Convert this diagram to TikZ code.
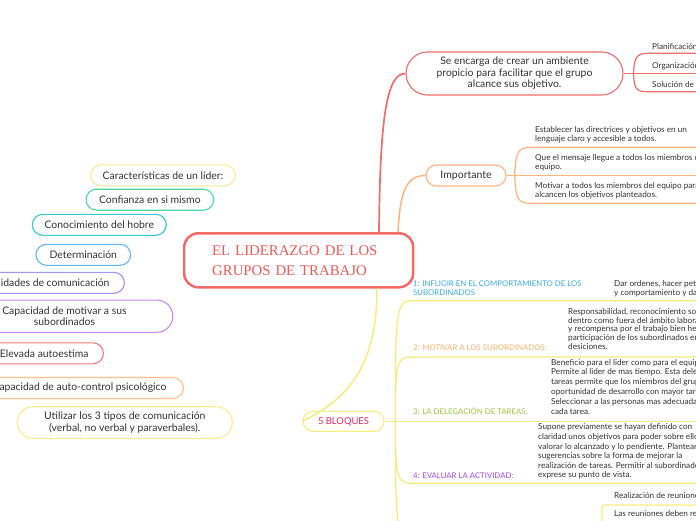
\documentclass[tikz,border=0pt]{standalone}
\usepackage{fontspec}
\setmainfont{Lato}
\newfontfamily\titlefont{Liberation Serif}
\definecolor{txt}{HTML}{333333}
\definecolor{cRed}{HTML}{F26D6D}
\definecolor{cCtr}{HTML}{F46A6A}
\definecolor{cCtrT}{HTML}{EE5B57}
\definecolor{cOra}{HTML}{FFB47E}
\definecolor{cYl}{HTML}{F7EC7E}
\definecolor{pYel}{HTML}{F5EC94}
\definecolor{pGrn}{HTML}{4CD9A4}
\definecolor{pCyn}{HTML}{33C9D6}
\definecolor{pBlu}{HTML}{66B5F5}
\definecolor{pLav}{HTML}{9E96F5}
\definecolor{pPur}{HTML}{C98AF0}
\definecolor{pSal}{HTML}{F27B78}
\definecolor{pOra}{HTML}{FFBF8F}
\definecolor{lBlu}{HTML}{3AACEB}
\definecolor{lOra}{HTML}{F7B469}
\definecolor{lGrn}{HTML}{A5C33C}
\definecolor{lPur}{HTML}{A147EE}
\definecolor{lCrm}{HTML}{E2275F}
\tikzset{
  pill/.style={draw, line width=1.1pt, rounded corners=10.5pt, inner sep=0pt, minimum height=21pt,
    font=\fontsize{10.4}{11.5}\selectfont, text=txt, align=center},
  subt/.style={inner sep=0pt, text=txt, align=left, anchor=south west},
  subone/.style={inner sep=0pt, text=txt, anchor=base west, font=\fontsize{8.2}{9.5}\selectfont},
  lab/.style={inner sep=0pt, align=left, font=\fontsize{7.8}{8.8}\selectfont},
  redl/.style={draw=cRed, line width=1.2pt},
  oral/.style={draw=cOra, line width=1.2pt},
  yell/.style={draw=cYl, line width=1.3pt},
}
\begin{document}
\begin{tikzpicture}[x=1pt,y=-1pt]
\useasboundingbox (0,0) rectangle (696,520);
\clip (0,0) rectangle (696,520);
\fill[white] (0,0) rectangle (696,520);

% left floating nodes
\node[pill, draw=pYel, minimum width=144.6pt] (p1) at (163,175.3) {Características de un líder:};
\node[pill, draw=pGrn, minimum width=127.7pt] (p2) at (149.9,199.7) {Confianza en si mismo};
\node[pill, draw=pCyn, minimum width=134pt] (p3) at (99.3,224.8) {Conocimiento del hobre};
\node[pill, draw=pBlu, minimum width=94.7pt] (p4) at (83.3,254.8) {Determinación};
\node[pill, draw=pLav, anchor=east, inner xsep=15pt] (p5) at (125,282.8) {Habilidades de comunicación};
\node[pill, draw=pPur, anchor=east, rounded corners=16pt, minimum width=216.6pt, minimum height=32.3pt] (p6) at (173.3,316.2) {Capacidad de motivar a sus\\subordinados};
\node[pill, draw=pSal, anchor=east, inner xsep=15pt] (p7) at (104,353.3) {Elevada autoestima};
\node[pill, draw=pOra, anchor=east, inner xsep=17pt] (p8) at (184,388) {Capacidad de auto-control psicológico};
\node[pill, draw=pYel, rounded corners=15.8pt, minimum width=215pt, minimum height=31.6pt] (p9) at (124.8,422.5) {Utilizar los 3 tipos de comunicación\\(verbal, no verbal y paraverbales).};

% central node
\node[draw=cCtr, line width=2.5pt, rounded corners=14pt, minimum width=229pt, minimum height=54pt,
  text width=173pt, inner xsep=28pt, inner ysep=0pt, align=left,
  font=\titlefont\fontsize{14.8}{20}\selectfont, text=cCtrT] (center) at (298.7,260.3) {EL LIDERAZGO DE LOS\\GRUPOS DE TRABAJO};

% first-level nodes
\node[pill, draw=cRed, rounded corners=21.5pt, minimum width=217pt, minimum height=43pt] (se) at (514.5,73.5)
  {Se encarga de crear un ambiente\\propicio para facilitar que el grupo\\alcance sus objetivo.};
\node[pill, draw=cOra, minimum width=80pt, font=\fontsize{10.5}{12}\selectfont] (imp) at (466,175.5) {Importante};
\node[pill, draw=cYl, rounded corners=10pt, minimum width=81pt, minimum height=20pt, text=lCrm, font=\fontsize{9.4}{11}\selectfont] (blq) at (343.5,421.3) {5 BLOQUES};

% connectors from the centre
\draw[redl, line width=1.7pt] ([xshift=80.3pt]center.north) .. controls (380,115) and (387,73.5) .. (se.west);
\draw[oral, line width=1.5pt] ([xshift=99.3pt]center.north) .. controls (400,192) and (406,175.5) .. (imp.west);
\draw[yell, line width=1.5pt] ([xshift=78.3pt]center.south) .. controls (377,370) and (345,400) .. (blq.west);

% red sub-branches
\coordinate (rj) at ([xshift=10pt]se.east);
\coordinate (R1) at (700,53.3);
\coordinate (R2) at (700,73.5);
\coordinate (R3) at (700,91.7);
\draw[redl] (se.east) -- (R2);
\draw[redl] (rj) .. controls (634,57) and (637,53.3) .. (648,53.3) -- (R1);
\draw[redl] (rj) .. controls (634,90) and (637,91.7) .. (648,91.7) -- (R3);
\node[subone] (r1) at (652,49.2) {Planificación};
\node[subone] (r2) at (652,68.5) {Organización};
\node[subone] (r3) at (652,87.5) {Solución de problemas};

% orange sub-branches
\coordinate (oj) at ([xshift=8pt]imp.east);
\coordinate (O1) at (700,147.3);
\coordinate (O2) at (700,175.5);
\coordinate (O3) at (700,203.3);
\draw[oral] (imp.east) -- (O2);
\draw[oral] (oj) .. controls (516,152) and (518,147.3) .. (530,147.3) -- (O1);
\draw[oral] (oj) .. controls (516,199) and (518,203.3) .. (530,203.3) -- (O3);
\node[subt, font=\fontsize{8.2}{9.3}\selectfont] (i1) at (535,144.4) {Establecer las directrices y objetivos en un\\lenguaje claro y accesible a todos.\strut};
\node[subt, font=\fontsize{8.2}{9.3}\selectfont] (i2) at (535,172.8) {Que el mensaje llegue a todos los miembros del\\equipo.\strut};
\node[subt, font=\fontsize{8.2}{9.3}\selectfont] (i3) at (535,200.4) {Motivar a todos los miembros del equipo para\\alcancen los objetivos planteados.\strut};

% yellow sub-branches (5 bloques)
\coordinate (bj) at ([xshift=11pt]blq.east);
\coordinate (Y1) at (700,300.7);
\coordinate (Y2) at (700,357);
\coordinate (Y3) at (700,421.3);
\coordinate (Y4) at (700,483.3);
\coordinate (Y5) at (602,540);
\coordinate (Y6) at (700,505);
\draw[yell] (blq.east) -- (Y3);
\draw[yell] (bj) .. controls (395,320) and (396,300.7) .. (410,300.7) -- (Y1);
\draw[yell] (bj) .. controls (395,368) and (396,357) .. (410,357) -- (Y2);
\draw[yell] (bj) .. controls (395,470) and (396,483.3) .. (410,483.3) -- (Y4);
\draw[yell] (bj) .. controls (395,525) and (397,540) .. (410,540) -- (Y5);
\draw[yell] (Y5) -- (602,510) .. controls (602,506) and (603,505) .. (607,505) -- (Y6);

\node[lab, text=lBlu, anchor=south west] (b1) at (413,298.1) {1: INFLIGIR EN EL COMPORTAMIENTO DE LOS\\SUBORDINADOS\strut};
\node[lab, text=lOra, anchor=base west] (b2) at (413,350.1) {2: MOTIVAR A LOS SUBORDINADOS:};
\node[lab, text=lGrn, anchor=base west] (b3) at (413,414.5) {3: LA DELEGACIÓN DE TAREAS:};
\node[lab, text=lPur, anchor=base west] (b4) at (413,478.5) {4: EVALUAR LA ACTIVIDAD:};

\node[subt, font=\fontsize{8.2}{9}\selectfont] (s1) at (614,298) {Dar ordenes, hacer peticiones\\y comportamiento y dar\strut};
\node[subt, font=\fontsize{8.2}{8.7}\selectfont] (s2) at (568,352.2) {Responsabilidad, reconocimiento social\\dentro como fuera del ámbito laboral\\y recompensa por el trabajo bien hecho\\participación de los subordinados en\\desiciones.\strut};
\node[subt, font=\fontsize{8.2}{9.8}\selectfont] (s3) at (551,417.3) {Beneficio para el lider como para el equipo.\\Permite al lider de mas tiempo. Esta delegación\\tareas permite que los miembros del grupo\\oportunidad de desarrollo con mayor tarea\\Seleccionar a las personas mas adecuadas\\cada tarea.\strut};
\node[subt, font=\fontsize{8.2}{9.6}\selectfont] (s4) at (538,480.9) {Supone previamente se hayan definido con\\claridad unos objetivos para poder sobre ellos\\valorar lo alcanzado y lo pendiente. Plantear\\sugerencias sobre la forma de mejorar la\\realización de tareas. Permitir al subordinado\\exprese su punto de vista.\strut};
\node[subone] (s5) at (614,498.3) {Realización de reuniones};
\node[subone] (s6) at (614,516.3) {Las reuniones deben recoger};
\end{tikzpicture}
\end{document}
